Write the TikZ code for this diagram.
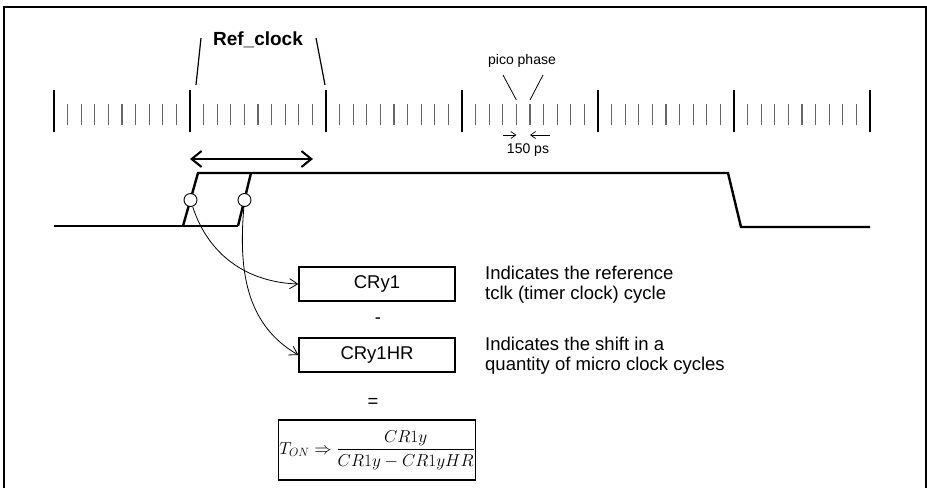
\documentclass[tikz,border=0pt]{standalone}
\usepackage{amsmath}
\usepackage{fontspec}
\setmainfont{Liberation Sans}
\usetikzlibrary{arrows.meta}

\begin{document}
\begin{tikzpicture}[x=1pt, y=-1pt,
    every node/.style={font=\fontsize{18.5}{20}\selectfont},
    crbox/.style={rectangle, draw, line width=1.3pt, minimum width=156pt,
                  minimum height=34pt, inner sep=0pt},
    note/.style={align=left, anchor=west, inner sep=0pt},
    tiny14/.style={font=\fontsize{14}{16}\selectfont, inner sep=0pt},
    tickmaj/.style={line width=2pt},
    tickmin/.style={line width=1.1pt, black!60},
    sig/.style={line width=2.4pt},
    lead/.style={line width=1.2pt},
    probe/.style={circle, draw, fill=white, minimum size=13pt, inner sep=0pt,
                  line width=0.9pt},
    e/.style={-{Straight Barb[length=8pt, width=10pt]}, line width=0.8pt},
    ep/.style={-{Straight Barb[length=5pt, width=7pt]}, line width=0.7pt},
    period/.style={{Straight Barb[length=10pt, width=16pt]}-{Straight Barb[length=10pt, width=16pt]},
                   line width=2pt},
  ]
  \useasboundingbox (0,0) rectangle (927,488);
  \draw[line width=1.5pt] (4,488) -- (4,7) -- (926,7) -- (926,488);

  \foreach \i in {0,...,6} {
    \coordinate (t\i) at ({54+136*\i}, 90);
    \draw[tickmaj] (t\i) -- ++(0,42);
  }
  \foreach \i in {0,...,5}
    \foreach \j in {1,...,9}
      \draw[tickmin] ({54+136*\i+13.6*\j}, 104) -- ++(0,21);

  \node[font=\fontsize{19}{21}\selectfont\bfseries] (refclk) at (258,40) {Ref\_clock};
  \coordinate (rcA) at (201,38);
  \coordinate (rcB) at (196,85);
  \coordinate (rcC) at (316,38);
  \coordinate (rcD) at (325,85);
  \draw[lead] (rcA) -- (rcB);
  \draw[lead] (rcC) -- (rcD);

  \node[tiny14] (pico) at (522,61) {pico phase};
  \coordinate (ppA) at (516.4,100);
  \coordinate (ppB) at (530,100);
  \draw[line width=0.8pt] (503,75) -- (ppA);
  \draw[line width=0.8pt] (543,75) -- (ppB);
  \coordinate (psA) at (503,135);
  \coordinate (psB) at (550,135);
  \draw[ep] (psA) -- (516.4,135);
  \draw[ep] (psB) -- (530,135);
  \node[tiny14] (ps) at (528,150) {150 ps};

  \coordinate (perA) at (190,159);
  \coordinate (perB) at (313,159);
  \draw[period] (perA) -- (perB);

  \draw[sig] (54,226) -- (238,226);
  \draw[sig] (183,226) -- (198,173) -- (728,173) -- (741,227) -- (870,227);
  \draw[sig] (238,226) -- (251,173);
  \node[probe] (c1) at (190.5,200) {};
  \node[probe] (c2) at (244.5,200) {};

  \node[crbox] (cry1) at (377,284) {CRy1};
  \node[crbox] (cry1hr) at (377,355) {CRy1HR};
  \node (minus) at (378,321) {-};
  \node (equals) at (373,403) {=};
  \node[crbox, minimum width=0pt, minimum height=60pt, inner sep=1pt] (ton) at (377,450)
    {$T_{ON}\Rightarrow\dfrac{CR1y}{CR1y-CR1yHR}$};

  \node[note] (n1) at (485,285) {Indicates the reference\\tclk (timer clock) cycle};
  \node[note] (n2) at (485,356) {Indicates the shift in a\\quantity of micro clock cycles};

  \draw[e] (c1) to[out=-72, in=178] (cry1.west);
  \draw[e] (c2) to[out=-95, in=150] (cry1hr.west);
\end{tikzpicture}
\end{document}
